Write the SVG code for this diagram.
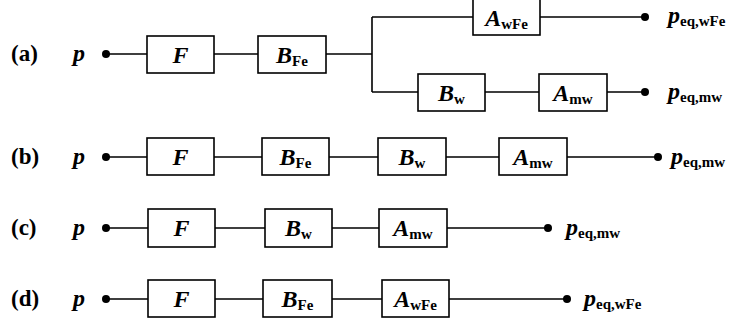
<svg xmlns="http://www.w3.org/2000/svg" width="735" height="324" viewBox="0 0 735 324">
<style>
.ln{stroke:#000;stroke-width:1.6;fill:none}
.bx{stroke:#000;stroke-width:1.6;fill:#fff}
text{font-family:"Liberation Serif","Times New Roman",serif;font-weight:bold;fill:#000}
.m{font-style:italic;font-size:24px}
.s{font-style:normal;font-size:15px}
.lab{font-size:23px}
.c{text-anchor:middle}
</style>
<rect width="735" height="324" fill="#fff"/>
<g id="connectors">
<path class="ln" d="M106 54H147M214 54H258M326 54H372M372 17V92M372 17H473M540 17H645M372 92H418M485 92H539M607 92H645"/>
<path class="ln" d="M106 157H147M214 157H262M329 157H378M446 157H499M567 157H658"/>
<path class="ln" d="M106 228H148M215 228H265M332 228H379M447 228H548"/>
<path class="ln" d="M106 299H148M215 299H263M332 299H382M449 299H567"/>
<g fill="#000">
<circle cx="106" cy="54" r="4"/><circle cx="645" cy="17" r="4"/><circle cx="645" cy="92" r="4"/>
<circle cx="106" cy="157" r="4"/><circle cx="658" cy="157" r="4"/>
<circle cx="106" cy="228" r="4"/><circle cx="548" cy="228" r="4"/>
<circle cx="106" cy="299" r="4"/><circle cx="567" cy="299" r="4"/>
</g>
</g>
<g id="labels">
<text class="lab" x="11" y="61">(a)</text>
<text class="lab" x="11" y="164">(b)</text>
<text class="lab" x="11" y="235">(c)</text>
<text class="lab" x="11" y="306">(d)</text>
<text class="m" x="73" y="61">p</text>
<text class="m" x="73" y="164">p</text>
<text class="m" x="73" y="235">p</text>
<text class="m" x="73" y="306">p</text>
</g>
<g id="outputs">
<text x="668" y="23"><tspan class="m">p</tspan><tspan class="s" dy="3">eq,wFe</tspan></text>
<text x="668" y="99"><tspan class="m">p</tspan><tspan class="s" dy="3">eq,mw</tspan></text>
<text x="671" y="164"><tspan class="m">p</tspan><tspan class="s" dy="3">eq,mw</tspan></text>
<text x="566" y="235"><tspan class="m">p</tspan><tspan class="s" dy="3">eq,mw</tspan></text>
<text x="584" y="306"><tspan class="m">p</tspan><tspan class="s" dy="3">eq,wFe</tspan></text>
</g>
<g id="a-F"><rect class="bx" x="147" y="36" width="67" height="37"/><text class="c m" x="180.5" y="63">F</text></g>
<g id="a-BFe"><rect class="bx" x="258" y="36" width="68" height="37"/><text class="c" x="292" y="63"><tspan class="m">B</tspan><tspan class="s" dy="3">Fe</tspan></text></g>
<g id="a-AwFe"><rect class="bx" x="473" y="-2" width="67" height="37"/><text class="c" x="506.5" y="26"><tspan class="m">A</tspan><tspan class="s" dy="3">wFe</tspan></text></g>
<g id="a-Bw"><rect class="bx" x="418" y="74" width="67" height="37"/><text class="c" x="451.5" y="101"><tspan class="m">B</tspan><tspan class="s" dy="3">w</tspan></text></g>
<g id="a-Amw"><rect class="bx" x="539" y="74" width="68" height="37"/><text class="c" x="573" y="101"><tspan class="m">A</tspan><tspan class="s" dy="3">mw</tspan></text></g>
<g id="b-F"><rect class="bx" x="147" y="138" width="67" height="37"/><text class="c m" x="180.5" y="165">F</text></g>
<g id="b-BFe"><rect class="bx" x="262" y="138" width="67" height="37"/><text class="c" x="295.5" y="165"><tspan class="m">B</tspan><tspan class="s" dy="3">Fe</tspan></text></g>
<g id="b-Bw"><rect class="bx" x="378" y="138" width="68" height="37"/><text class="c" x="412" y="165"><tspan class="m">B</tspan><tspan class="s" dy="3">w</tspan></text></g>
<g id="b-Amw"><rect class="bx" x="499" y="138" width="68" height="37"/><text class="c" x="533" y="165"><tspan class="m">A</tspan><tspan class="s" dy="3">mw</tspan></text></g>
<g id="c-F"><rect class="bx" x="148" y="209" width="67" height="38"/><text class="c m" x="181.5" y="236">F</text></g>
<g id="c-Bw"><rect class="bx" x="265" y="209" width="67" height="38"/><text class="c" x="298.5" y="236"><tspan class="m">B</tspan><tspan class="s" dy="3">w</tspan></text></g>
<g id="c-Amw"><rect class="bx" x="379" y="209" width="68" height="38"/><text class="c" x="413" y="236"><tspan class="m">A</tspan><tspan class="s" dy="3">mw</tspan></text></g>
<g id="d-F"><rect class="bx" x="148" y="280" width="67" height="37"/><text class="c m" x="181.5" y="307">F</text></g>
<g id="d-BFe"><rect class="bx" x="263" y="280" width="69" height="37"/><text class="c" x="297.5" y="307"><tspan class="m">B</tspan><tspan class="s" dy="3">Fe</tspan></text></g>
<g id="d-AwFe"><rect class="bx" x="382" y="280" width="67" height="37"/><text class="c" x="415.5" y="307"><tspan class="m">A</tspan><tspan class="s" dy="3">wFe</tspan></text></g>
</svg>
